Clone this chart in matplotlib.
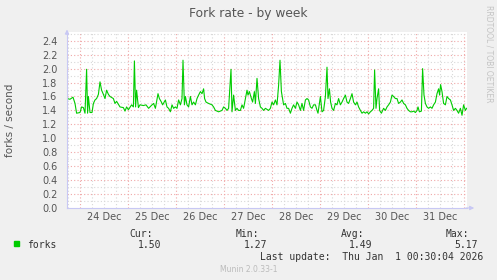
import matplotlib
matplotlib.use("Agg")
import matplotlib.pyplot as plt
import numpy as np

# hours since 24 Dec 00:00
hours = [
    -6.5, -5, -4, -3.5, -2.5, -1.7, 0, 0.8, 1.7, 2.5, 3.3, 3.8, 4.2, 5, 6, 6.7,
    7.5, 8.3, 9.2, 10, 10.8, 11.7, 12.5, 13.3, 14.2, 15, 16.7, 17.5, 18.3, 20,
    21.7, 22.5, 23.3, 24.2, 25.8, 26.7, 27.2, 27.8, 28.3, 29.2, 30, 31.7,
    33, 34.3, 36, 36.8, 37.7, 39, 39.7, 40.7, 41.3, 42.7, 43.5, 44.3, 45.2, 46,
    46.8, 47.7, 48.5, 49.3, 50.2, 51, 51.5, 52.2, 52.7, 53.5, 54.3, 55.2, 56,
    56.8, 57.7, 58.5, 59.3, 60.2, 61, 61.8, 62.3, 63, 64.3, 66, 66.8, 67.7,
    69.3, 71, 71.8, 72.7, 73.5, 74.3, 75.5, 76, 76.8, 77.7, 78.5, 79.3, 80.2,
    81, 81.8, 82.7, 83.5, 84, 84.7, 85.7, 86.3, 87.2, 87.7, 88.5, 89.3, 90.2,
    91, 91.8, 92.7, 94.3, 95.2, 96, 96.8, 97.7, 98.5, 99.3, 100, 100.7, 101.3,
    101.8, 102.7, 103.5, 104.3, 105.2, 106, 106.8, 107.7, 108.5, 109.3, 110.2,
    111, 111.8, 112.7, 113.5, 114.3, 115.2, 116, 116.8, 117.7, 118.5, 119,
    120.2, 121, 121.8, 122.7, 123.5, 124, 124.7, 125.3, 126, 126.8, 127.7,
    128.5, 129.3, 130.2, 131, 131.8, 132.7, 133.5, 134.3, 135.2, 136, 136.8,
    137.7, 138.5, 139.3, 140.2, 141, 141.8, 142.7, 143.5, 144.3, 145.2, 146,
    146.8, 147.3, 148, 148.5, 149.3, 149.8, 150.7, 151.8, 152.7, 153.5, 154.3,
    155.2, 156, 156.8, 157.7, 158.5, 159.3, 160.2, 161, 161.8, 162.7, 163.5,
    164.3, 165.2, 166, 166.8, 167.7, 168.5, 169, 169.7, 170.7, 171.3, 172,
    172.7, 173.5, 174.3, 175.2, 176, 176.8, 177.7, 178.5, 179.3, 179.8, 180.3,
    181, 181.8, 182.7, 183.5, 184.3, 185.2, 186, 186.8, 187.7, 188.5, 189.3,
    190.2, 191, 191.8, 192.7, 193.3,
]
forks = [
    1.57, 1.56, 1.58, 1.59, 1.50, 1.36, 1.37, 1.45, 1.44, 1.36, 1.99, 1.36, 1.60, 1.37, 1.37, 1.50,
    1.55, 1.57, 1.63, 1.81, 1.69, 1.63, 1.57, 1.69, 1.63, 1.60, 1.57, 1.50, 1.53, 1.45,
    1.44, 1.39, 1.45, 1.41, 1.48, 1.45, 2.11, 1.45, 1.69, 1.44, 1.48, 1.47,
    1.48, 1.43, 1.48, 1.50, 1.43, 1.64, 1.57, 1.52, 1.48, 1.55, 1.45, 1.43, 1.38, 1.48,
    1.43, 1.45, 1.43, 1.55, 1.48, 1.57, 2.12, 1.48, 1.60, 1.48, 1.45, 1.60, 1.48,
    1.52, 1.48, 1.57, 1.62, 1.67, 1.64, 1.71, 1.57, 1.52, 1.50, 1.48, 1.45, 1.40,
    1.38, 1.40, 1.45, 1.43, 1.40, 1.43, 1.99, 1.38, 1.62, 1.40, 1.43, 1.40, 1.40,
    1.48, 1.43, 1.57, 1.69, 1.62, 1.67, 1.57, 1.52, 1.67, 1.50, 1.86, 1.57, 1.45,
    1.43, 1.40, 1.43, 1.40, 1.43, 1.52, 1.48, 1.55, 1.48, 1.76, 2.12, 1.67, 1.57,
    1.48, 1.50, 1.43, 1.43, 1.36, 1.43, 1.48, 1.43, 1.52, 1.48, 1.40,
    1.50, 1.40, 1.55, 1.57, 1.55, 1.45, 1.43, 1.48, 1.48, 1.40, 1.36,
    1.60, 1.38, 1.40, 1.60, 2.02, 1.57, 1.71, 1.52, 1.43, 1.40, 1.50,
    1.48, 1.57, 1.48, 1.52, 1.57, 1.62, 1.52, 1.50, 1.57, 1.64, 1.52,
    1.48, 1.52, 1.45, 1.40, 1.36, 1.38, 1.36, 1.38, 1.35, 1.38, 1.40,
    1.43, 1.98, 1.43, 1.57, 1.71, 1.40, 1.36, 1.43, 1.40, 1.45, 1.48,
    1.52, 1.62, 1.60, 1.57, 1.57, 1.50, 1.52, 1.55, 1.50, 1.48, 1.43,
    1.40, 1.38, 1.38, 1.39, 1.37, 1.40, 1.45, 1.38, 1.39, 2.00, 1.62,
    1.50, 1.45, 1.43, 1.45, 1.43, 1.48, 1.52, 1.64, 1.71, 1.62, 1.77,
    1.67, 1.50, 1.48, 1.60, 1.57, 1.55, 1.48, 1.40, 1.43, 1.40, 1.36,
    1.43, 1.33, 1.48, 1.40, 1.43,
]
day_labels = ["24 Dec", "25 Dec", "26 Dec", "27 Dec", "28 Dec", "29 Dec", "30 Dec", "31 Dec"]
y_ticks = [0.0, 0.2, 0.4, 0.6, 0.8, 1.0, 1.2, 1.4, 1.6, 1.8, 2.0, 2.2, 2.4]
stats = {"Cur:": "1.50", "Min:": "1.27", "Avg:": "1.49", "Max:": "5.17"}

BG = "#F0F0F0"
LINE = "#00CC00"
TXT = "#555555"
MAJOR = "#F0A8A8"
MINOR = "#D8D8D8"
AXIS = "#C8C8F4"

fig = plt.figure(figsize=(4.97, 2.80), dpi=100, facecolor=BG)
ax = fig.add_axes([67 / 497, 72 / 280, 400 / 497, 176 / 280])
ax.set_facecolor("white")
ax.set_xlim(-6.5, 193.5)
ax.set_ylim(0, 2.525)

# grid: minor grey every 6 h / 0.1, major red at midnight / 0.2
for h in np.arange(-6, 194, 6):
    if h % 24 != 0:
        ax.axvline(h, color=MINOR, lw=0.8, ls=(0, (1, 2)), zorder=1)
for h in np.arange(0, 194, 24):
    ax.axvline(h, color=MAJOR, lw=0.8, ls=(0, (1, 2)), zorder=1)
for v in np.arange(0.1, 2.55, 0.2):
    ax.axhline(v, color=MINOR, lw=0.8, ls=(0, (1, 2)), zorder=1)
for v in y_ticks[1:]:
    ax.axhline(v, color=MAJOR, lw=0.8, ls=(0, (1, 2)), zorder=1)

ax.plot(hours, forks, color=LINE, lw=0.8, zorder=3)

ax.set_yticks(y_ticks)
ax.set_yticklabels([f"{v:.1f}" for v in y_ticks])
ax.set_xticks([12 + 24 * i for i in range(len(day_labels))])
ax.set_xticklabels(day_labels)
ax.tick_params(axis="both", length=0, labelsize=7, colors=TXT, pad=6)
ax.tick_params(axis="y", pad=7)
ax.tick_params(axis="x", pad=3)

for s in ["top", "right"]:
    ax.spines[s].set_visible(False)
ax.spines["left"].set_color(AXIS)
ax.spines["bottom"].set_color(AXIS)
ax.spines["left"].set_zorder(4)
ax.spines["bottom"].set_zorder(4)
ax.annotate("", xy=(0, 1.03), xytext=(0, 0.97), xycoords="axes fraction",
            arrowprops=dict(arrowstyle="-|>", color=AXIS, lw=0.8, mutation_scale=6))
ax.annotate("", xy=(1.025, 0), xytext=(0.99, 0), xycoords="axes fraction",
            arrowprops=dict(arrowstyle="-|>", color=AXIS, lw=0.8, mutation_scale=6))

fig.text(248 / 497, 1 - 13 / 280, "Fork rate - by week", ha="center", va="center",
         fontsize=8.8, color=TXT)
fig.text(10 / 497, 1 - 120 / 280, "forks / second", rotation=90, ha="center",
         va="center", fontsize=7.5, color=TXT)
fig.text(489 / 497, 1 - 5 / 280, "RRDTOOL / TOBI OETIKER", rotation=-90, ha="center",
         va="top", fontsize=5.5, color="#C4C4C4")

# legend block
mono = "DejaVu Sans Mono"
fig.patches.append(plt.Rectangle((14 / 497, 1 - 246 / 280), 5 / 497, 5 / 280,
                                 transform=fig.transFigure, color=LINE))
fig.text(27 / 497, 1 - 245.5 / 280, "forks", family=mono, fontsize=7, color="#333333",
         va="center")
for (k, val), xr, xv in zip(stats.items(), [153, 259, 364, 469], [161, 267, 372, 478]):
    fig.text(xr / 497, 1 - 234 / 280, k, family=mono, fontsize=7, color="#333333",
             ha="right", va="center")
    fig.text(xv / 497, 1 - 245.5 / 280, val, family=mono, fontsize=7, color="#333333",
             ha="right", va="center")
fig.text(483 / 497, 1 - 257 / 280, "Last update:  Thu Jan  1 00:30:04 2026", family=mono,
         fontsize=7, color="#333333", ha="right", va="center")
fig.text(249 / 497, 1 - 269 / 280, "Munin 2.0.33-1", fontsize=5.5, color="#BBBBBB",
         ha="center", va="center")

fig.savefig("out.png", dpi=100, facecolor=BG)
